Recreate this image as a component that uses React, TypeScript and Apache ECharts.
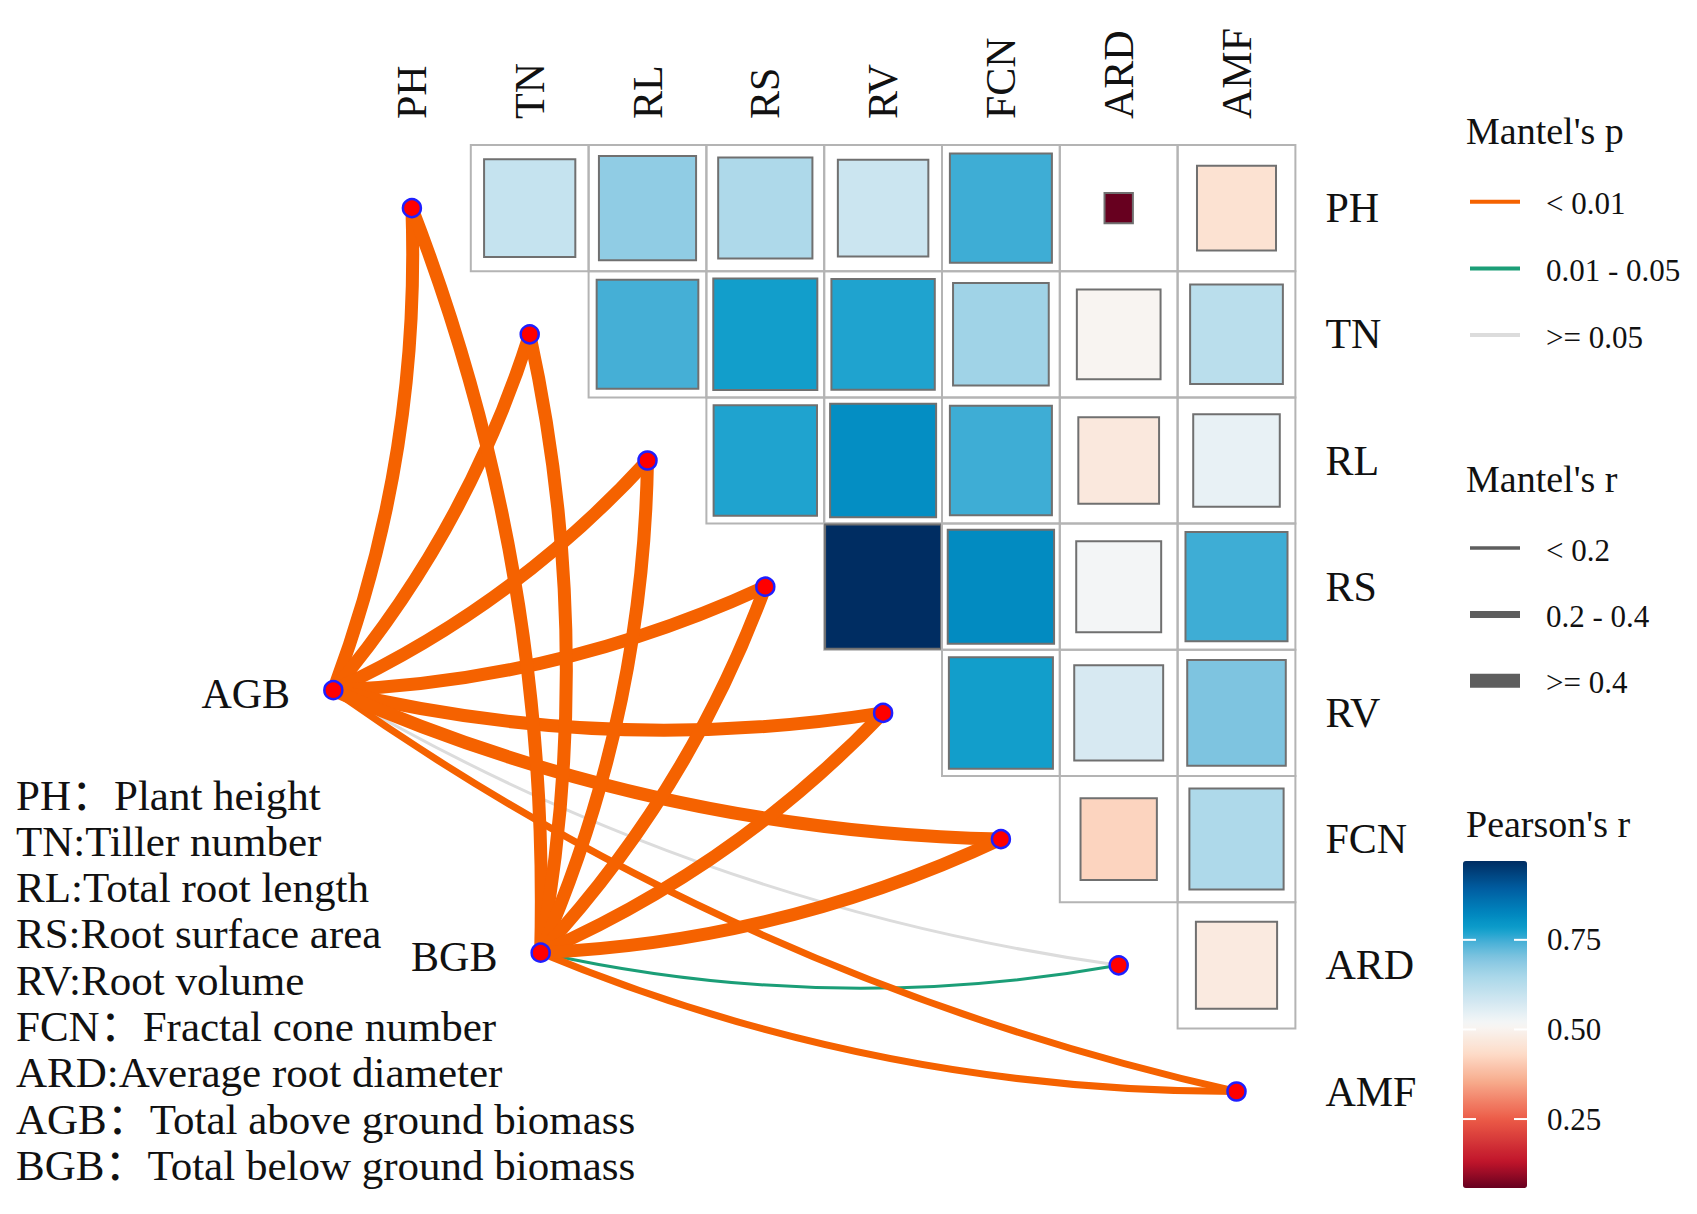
import React, { useEffect, useRef } from 'react';
import * as echarts from 'echarts';

// ---------------- data ----------------
const VARS = ['PH', 'TN', 'RL', 'RS', 'RV', 'FCN', 'ARD', 'AMF'];

// Pearson's r, upper triangle: row i holds columns i+1 .. 7
const R_PH = [0.6, 0.68, 0.64, 0.59, 0.75, 0.058, 0.45];
const R_TN = [0.745, 0.78, 0.77, 0.66, 0.505, 0.62];
const R_RL = [0.77, 0.81, 0.75, 0.47, 0.54];
const R_RS = [0.97, 0.815, 0.52, 0.75];
const R_RV = [0.78, 0.57, 0.7];
const R_FCN = [0.42, 0.64];
const R_ARD = [0.475];
const PEARSON_ROWS = [R_PH, R_TN, R_RL, R_RS, R_RV, R_FCN, R_ARD];

const PEARSON_MIN = 0.0576;
const PEARSON_MAX = 0.97;
const COLORBAR_TICKS = [0.25, 0.5, 0.75];

// Mantel test links (category index per target variable, in VARS order)
const ENVS = ['AGB', 'BGB'];
const P_LEVELS = ['< 0.01', '0.01 - 0.05', '>= 0.05'];
const R_LEVELS = ['< 0.2', '0.2 - 0.4', '>= 0.4'];
const AGB_P = [0, 0, 0, 0, 0, 0, 2, 0];
const AGB_R = [2, 2, 2, 2, 2, 2, 0, 1];
const BGB_P = [0, 0, 0, 0, 0, 0, 1, 0];
const BGB_R = [2, 2, 2, 2, 2, 2, 0, 1];
const LINK_P = [AGB_P, BGB_P];
const LINK_R = [AGB_R, BGB_R];

const DESCRIPTIONS = [
  'PH：Plant height',
  'TN:Tiller number',
  'RL:Total root length',
  'RS:Root surface area',
  'RV:Root volume',
  'FCN：Fractal cone number',
  'ARD:Average root diameter',
  'AGB：Total above ground biomass',
  'BGB：Total below ground biomass',
];

// ---------------- layout / style ----------------
const W = 1697;
const H = 1214;
const FONT = "'Liberation Serif', 'Times New Roman', 'Noto Sans CJK SC', serif";
const ENV_POS = [
  [-0.667, 3.82],
  [1.093, 5.9],
];
const P_COLORS = ['#f56200', '#1b9e77', '#dcdcdc'];
const R_WIDTHS = [3, 7, 13];
const R_KEY_WIDTHS = [3.5, 7, 14];

const PAL_STOPS: [number, string][] = [
  [0.0576, '#67001f'],
  [0.13, '#c0142b'],
  [0.25, '#ec5b47'],
  [0.35, '#f7a889'],
  [0.43, '#fddbc7'],
  [0.515, '#f7f7f7'],
  [0.58, '#d1e7f1'],
  [0.65, '#a8d7e9'],
  [0.7, '#80c4e0'],
  [0.75, '#3fadd5'],
  [0.78, '#0e9fcb'],
  [0.82, '#0088c0'],
  [0.89, '#005fa3'],
  [0.97, '#002d62'],
];

function hexToRgb(h: string) {
  const n = parseInt(h.slice(1), 16);
  return [(n >> 16) & 255, (n >> 8) & 255, n & 255];
}
function colorAt(v: number) {
  if (v <= PAL_STOPS[0][0]) return PAL_STOPS[0][1];
  for (let i = 1; i < PAL_STOPS.length; i++) {
    if (v <= PAL_STOPS[i][0]) {
      const [v0, c0] = PAL_STOPS[i - 1];
      const [v1, c1] = PAL_STOPS[i];
      const t = (v - v0) / (v1 - v0);
      const a = hexToRgb(c0);
      const b = hexToRgb(c1);
      const m = a.map((x, k) => Math.round(x + (b[k] - x) * t));
      return `rgb(${m[0]},${m[1]},${m[2]})`;
    }
  }
  return PAL_STOPS[PAL_STOPS.length - 1][1];
}
const N_SAMPLES = 60;
const PALETTE = Array.from({ length: N_SAMPLES }, (_, i) =>
  colorAt(PEARSON_MIN + ((PEARSON_MAX - PEARSON_MIN) * i) / (N_SAMPLES - 1))
);

// main grid in pixels
const GRID = { left: 58.5, top: 145, width: 1236.9, height: 1009.6 };
const X_MIN = -3;
const X_MAX = 7.5;
const CB = { left: 1463, top: 861, width: 64, height: 327 };

export default function App() {
  const ref = useRef<HTMLDivElement>(null);

  useEffect(() => {
    if (!ref.current) return;
    const chart = echarts.init(ref.current, undefined, { renderer: 'svg' });

    const heatData: number[][] = [];
    PEARSON_ROWS.forEach((row, i) => {
      row.forEach((r, k) => heatData.push([i + 1 + k, i, r]));
    });

    const linkData: any[] = [];
    const order: any[] = [];
    ENVS.forEach((env, e) => {
      VARS.forEach((v, j) => {
        order.push({ e, j, p: LINK_P[e][j], r: LINK_R[e][j] });
      });
    });
    // draw non-significant/thin links first
    order.sort((a, b) => b.p - a.p || a.r - b.r);
    order.forEach(({ e, j, p, r }) => {
      linkData.push({
        coords: [ENV_POS[e], [j, j]],
        lineStyle: { color: P_COLORS[p], width: R_WIDTHS[r], curveness: -0.1, opacity: 1 },
      });
    });

    const nodeData: any[] = VARS.map((v, j) => ({ name: v, value: [j, j] }));
    ENVS.forEach((env, e) =>
      nodeData.push({
        name: env,
        value: ENV_POS[e],
        label: {
          show: true,
          position: 'left',
          distance: 33,
          offset: [0, 4],
          formatter: env,
          fontFamily: FONT,
          fontSize: 42,
          color: '#111',
        },
      })
    );

    const graphics: any[] = [];
    const txt = (x: number, y: number, text: string, size: number, align = 'left') => ({
      type: 'text',
      x,
      y,
      silent: true,
      style: {
        text,
        fill: '#111',
        fontSize: size,
        fontFamily: FONT,
        align,
        verticalAlign: 'middle',
        textAlign: align,
        textVerticalAlign: 'middle',
      },
    });
    // description block
    DESCRIPTIONS.forEach((d, i) => graphics.push(txt(16, 795 + i * 46.3, d, 43)));
    // Mantel's p legend
    graphics.push(txt(1466, 131, "Mantel's p", 38));
    P_LEVELS.forEach((lab, i) => {
      const y = 201.7 + i * 66.7;
      graphics.push({
        type: 'line',
        silent: true,
        shape: { x1: 1470, y1: y, x2: 1520, y2: y },
        style: { stroke: P_COLORS[i], lineWidth: 4, lineCap: 'butt' },
      });
      graphics.push(txt(1546, y + 2, lab, 31));
    });
    // Mantel's r legend
    graphics.push(txt(1466, 479, "Mantel's r", 38));
    R_LEVELS.forEach((lab, i) => {
      const y = 548 + i * 66.4;
      graphics.push({
        type: 'line',
        silent: true,
        shape: { x1: 1470, y1: y, x2: 1520, y2: y },
        style: { stroke: '#5e5e5e', lineWidth: R_KEY_WIDTHS[i], lineCap: 'butt' },
      });
      graphics.push(txt(1546, y + 2, lab, 31));
    });
    // Pearson's r title
    graphics.push(txt(1466, 824, "Pearson's r", 38));

    chart.setOption({
      animation: false,
      backgroundColor: '#ffffff',
      grid: [
        { left: GRID.left, top: GRID.top, width: GRID.width, height: GRID.height, containLabel: false },
        { left: CB.left, top: CB.top, width: CB.width, height: CB.height, containLabel: false },
      ],
      xAxis: [
        {
          type: 'value',
          gridIndex: 0,
          min: X_MIN,
          max: X_MAX,
          position: 'top',
          axisLine: { show: false },
          axisTick: { show: false },
          splitLine: { show: false },
          axisLabel: {
            show: true,
            customValues: VARS.map((_, i) => i),
            formatter: (v: number) => VARS[Math.round(v)] ?? '',
            rotate: 90,
            margin: 26,
            fontSize: 42,
            fontFamily: FONT,
            color: '#111',
          },
        },
        { type: 'value', gridIndex: 1, min: 0, max: 1, show: false },
      ],
      yAxis: [
        {
          type: 'value',
          gridIndex: 0,
          min: -0.5,
          max: 7.5,
          inverse: true,
          position: 'right',
          axisLine: { show: false },
          axisTick: { show: false },
          splitLine: { show: false },
          axisLabel: {
            show: true,
            customValues: VARS.map((_, i) => i),
            formatter: (v: number) => VARS[Math.round(v)] ?? '',
            margin: 30,
            fontSize: 42,
            fontFamily: FONT,
            color: '#111',
          },
        },
        {
          type: 'value',
          gridIndex: 1,
          min: PEARSON_MIN,
          max: PEARSON_MAX,
          position: 'right',
          axisLine: { show: false },
          splitLine: { show: false },
          axisTick: { show: false },
          axisLabel: {
            show: true,
            customValues: COLORBAR_TICKS,
            formatter: (v: number) => v.toFixed(2),
            margin: 20,
            fontSize: 31,
            fontFamily: FONT,
            color: '#111',
          },
        },
      ],
      visualMap: {
        type: 'continuous',
        min: PEARSON_MIN,
        max: PEARSON_MAX,
        dimension: 2,
        seriesIndex: 0,
        show: true,
        calculable: false,
        hoverLink: false,
        left: CB.left,
        top: CB.top,
        padding: 0,
        itemWidth: CB.width,
        itemHeight: CB.height,
        inRange: { color: PALETTE },
        text: null,
        showLabel: false,
      },
      series: [
        {
          type: 'custom',
          xAxisIndex: 0,
          yAxisIndex: 0,
          silent: true,
          z: 2,
          encode: { x: 0, y: 1 },
          data: heatData,
          renderItem: (params: any, api: any) => {
            const col = api.value(0);
            const row = api.value(1);
            const r = api.value(2);
            const c = api.coord([col, row]);
            const sz = api.size([1, 1]);
            const w = Math.abs(sz[0]);
            const h = Math.abs(sz[1]);
            const f = Math.sqrt(Math.abs(r));
            return {
              type: 'group',
              children: [
                {
                  type: 'rect',
                  shape: { x: c[0] - w / 2, y: c[1] - h / 2, width: w, height: h },
                  style: { fill: 'none', stroke: '#b4b4b4', lineWidth: 2 },
                },
                {
                  type: 'rect',
                  shape: { x: c[0] - (w * f) / 2, y: c[1] - (h * f) / 2, width: w * f, height: h * f },
                  style: { fill: api.visual('color'), stroke: '#707070', lineWidth: 2 },
                },
              ],
            };
          },
        },
        {
          type: 'lines',
          coordinateSystem: 'cartesian2d',
          xAxisIndex: 0,
          yAxisIndex: 0,
          silent: true,
          z: 3,
          polyline: false,
          lineStyle: { curveness: -0.1, opacity: 1, cap: 'butt' },
          data: linkData,
        },
        {
          type: 'scatter',
          xAxisIndex: 0,
          yAxisIndex: 0,
          silent: true,
          z: 4,
          symbol: 'circle',
          symbolSize: 18,
          itemStyle: { color: '#ff0000', borderColor: '#1f1fff', borderWidth: 2.5, opacity: 1 },
          data: nodeData,
        },
      ],
      graphic: graphics,
    });

    // white tick marks on both edges of the colour bar, placed through the colour-bar axis scale
    const tickMarks: any[] = [];
    COLORBAR_TICKS.forEach((v) => {
      const y = chart.convertToPixel({ yAxisIndex: 1 }, v) as number;
      [
        [CB.left, CB.left + 13],
        [CB.left + CB.width - 13, CB.left + CB.width],
      ].forEach(([x1, x2]) =>
        tickMarks.push({
          type: 'line',
          silent: true,
          z: 100,
          shape: { x1, y1: y, x2, y2: y },
          style: { stroke: '#ffffff', lineWidth: 2 },
        })
      );
    });
    chart.setOption({ graphic: [...graphics, ...tickMarks] });

    return () => chart.dispose();
  }, []);

  return (
    <div
      ref={ref}
      style={{ position: 'absolute', left: 0, top: 0, width: W, height: H, background: '#fff' }}
    />
  );
}
